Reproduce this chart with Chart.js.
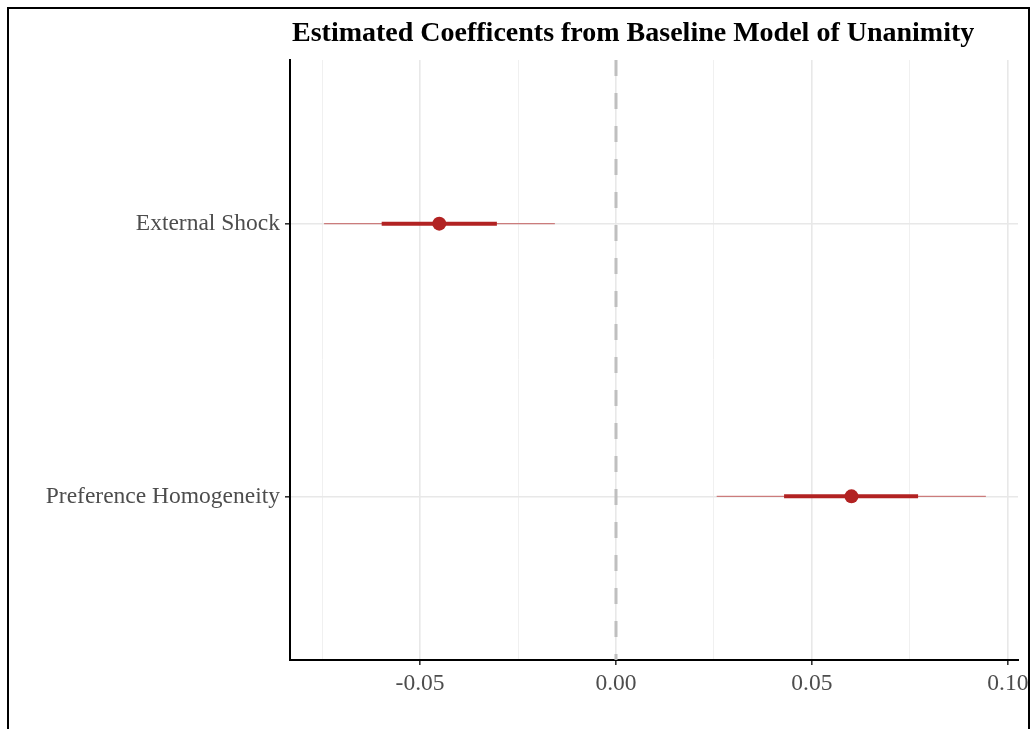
<!DOCTYPE html>
<html>
<head>
<meta charset="utf-8">
<script src="https://cdn.jsdelivr.net/npm/chart.js@4"></script>
<style>
html, body { margin: 0; padding: 0; background: #fff; overflow: hidden; }
#wrap { position: absolute; left: 0; top: 0; width: 1031px; height: 729px; }
#frame { position: absolute; left: 7px; top: 7px; width: 1019px; height: 800px; border: 2px solid #000; pointer-events: none; }
</style>
</head>
<body>
<div id="wrap"><canvas id="canvas" width="1031" height="729"></canvas></div>
<div id="frame"></div>
<script>
var chartTitle = 'Estimated Coefficents from Baseline Model of Unanimity';

// terms from bottom (y = 1) to top (y = 2)
var terms = ['Preference Homogeneity', 'External Shock'];
var estimates = [0.0601, -0.0451];
var innerLow = [0.0429, -0.0598];
var innerHigh = [0.0771, -0.0304];
var outerLow = [0.0257, -0.0745];
var outerHigh = [0.0944, -0.0156];

var xMajor = [-0.05, 0, 0.05, 0.10];
var xMinor = [-0.075, -0.025, 0.025, 0.075];

var red = '#b22222';

function isMinor(v) {
    return xMinor.some(function(m) { return Math.abs(m - v) < 1e-9; });
}

var datasets = [];

// dashed reference line at zero
datasets.push({
    data: [{x: 0, y: 2.6}, {x: 0, y: 0.4}],
    showLine: true,
    borderColor: '#bfbfbf',
    borderWidth: 3,
    borderDash: [16, 17],
    pointRadius: 0,
    order: 10
});

terms.forEach(function(term, i) {
    var y = i + 1;
    datasets.push({
        data: [{x: outerLow[i], y: y}, {x: outerHigh[i], y: y}],
        showLine: true,
        borderColor: 'rgba(178,34,34,0.55)',
        borderWidth: 1.3,
        pointRadius: 0,
        order: 5
    });
    datasets.push({
        data: [{x: innerLow[i], y: y}, {x: innerHigh[i], y: y}],
        showLine: true,
        borderColor: red,
        borderWidth: 4,
        pointRadius: 0,
        order: 3
    });
    datasets.push({
        data: [{x: estimates[i], y: y}],
        pointRadius: 7,
        pointBackgroundColor: red,
        pointBorderColor: red,
        pointBorderWidth: 0,
        order: 1
    });
});

var titlePlugin = {
    id: 'leftTitle',
    afterDraw: function(chart) {
        var ctx = chart.ctx;
        ctx.save();
        ctx.font = 'bold 28px "Liberation Serif"';
        ctx.fillStyle = '#000';
        ctx.textBaseline = 'alphabetic';
        ctx.textAlign = 'left';
        ctx.fillText(chartTitle, chart.chartArea.left + 2, 41);
        ctx.restore();
    }
};

var config = {
    type: 'scatter',
    data: { datasets: datasets },
    options: {
        responsive: false,
        animation: false,
        layout: { padding: { left: 0, top: 60, right: 13, bottom: 0 } },
        plugins: {
            legend: { display: false },
            tooltip: { enabled: false },
            title: { display: false }
        },
        scales: {
            x: {
                type: 'linear',
                min: -0.0832,
                max: 0.1026,
                afterBuildTicks: function(scale) {
                    scale.ticks = xMajor.concat(xMinor).sort(function(a, b) { return a - b; })
                        .map(function(v) { return {value: v}; });
                },
                afterFit: function(scale) {
                    scale.height = 69;
                    scale.paddingLeft = 0;
                    scale.paddingRight = 0;
                },
                ticks: {
                    autoSkip: false,
                    maxRotation: 0,
                    padding: 5,
                    color: '#4d4d4d',
                    font: { family: 'Liberation Serif', size: 23.5 },
                    callback: function(value) {
                        return isMinor(value) ? '' : value.toFixed(2);
                    }
                },
                grid: {
                    color: function(ctx) { return ctx.tick && isMinor(ctx.tick.value) ? '#f0f0f0' : '#e8e8e8'; },
                    lineWidth: function(ctx) { return ctx.tick && isMinor(ctx.tick.value) ? 1 : 1.6; },
                    tickColor: function(ctx) { return ctx.tick && isMinor(ctx.tick.value) ? 'rgba(0,0,0,0)' : '#333'; },
                    tickLength: 5
                },
                border: { display: true, color: '#000', width: 2 }
            },
            y: {
                type: 'linear',
                min: 0.4,
                max: 2.6,
                afterBuildTicks: function(scale) {
                    scale.ticks = [{value: 1}, {value: 2}];
                },
                afterFit: function(scale) {
                    scale.width = 290;
                    scale.paddingTop = 0;
                    scale.paddingBottom = 0;
                },
                ticks: {
                    autoSkip: false,
                    padding: 5,
                    color: '#4d4d4d',
                    font: { family: 'Liberation Serif', size: 23.5 },
                    callback: function(value) { return terms[value - 1]; }
                },
                grid: {
                    color: '#e8e8e8',
                    lineWidth: 1.6,
                    tickColor: '#333',
                    tickLength: 5
                },
                border: { display: true, color: '#000', width: 2 }
            }
        }
    },
    plugins: [titlePlugin]
};

var ctx = document.getElementById('canvas').getContext('2d');
window.myChart = new Chart(ctx, config);
</script>
</body>
</html>
